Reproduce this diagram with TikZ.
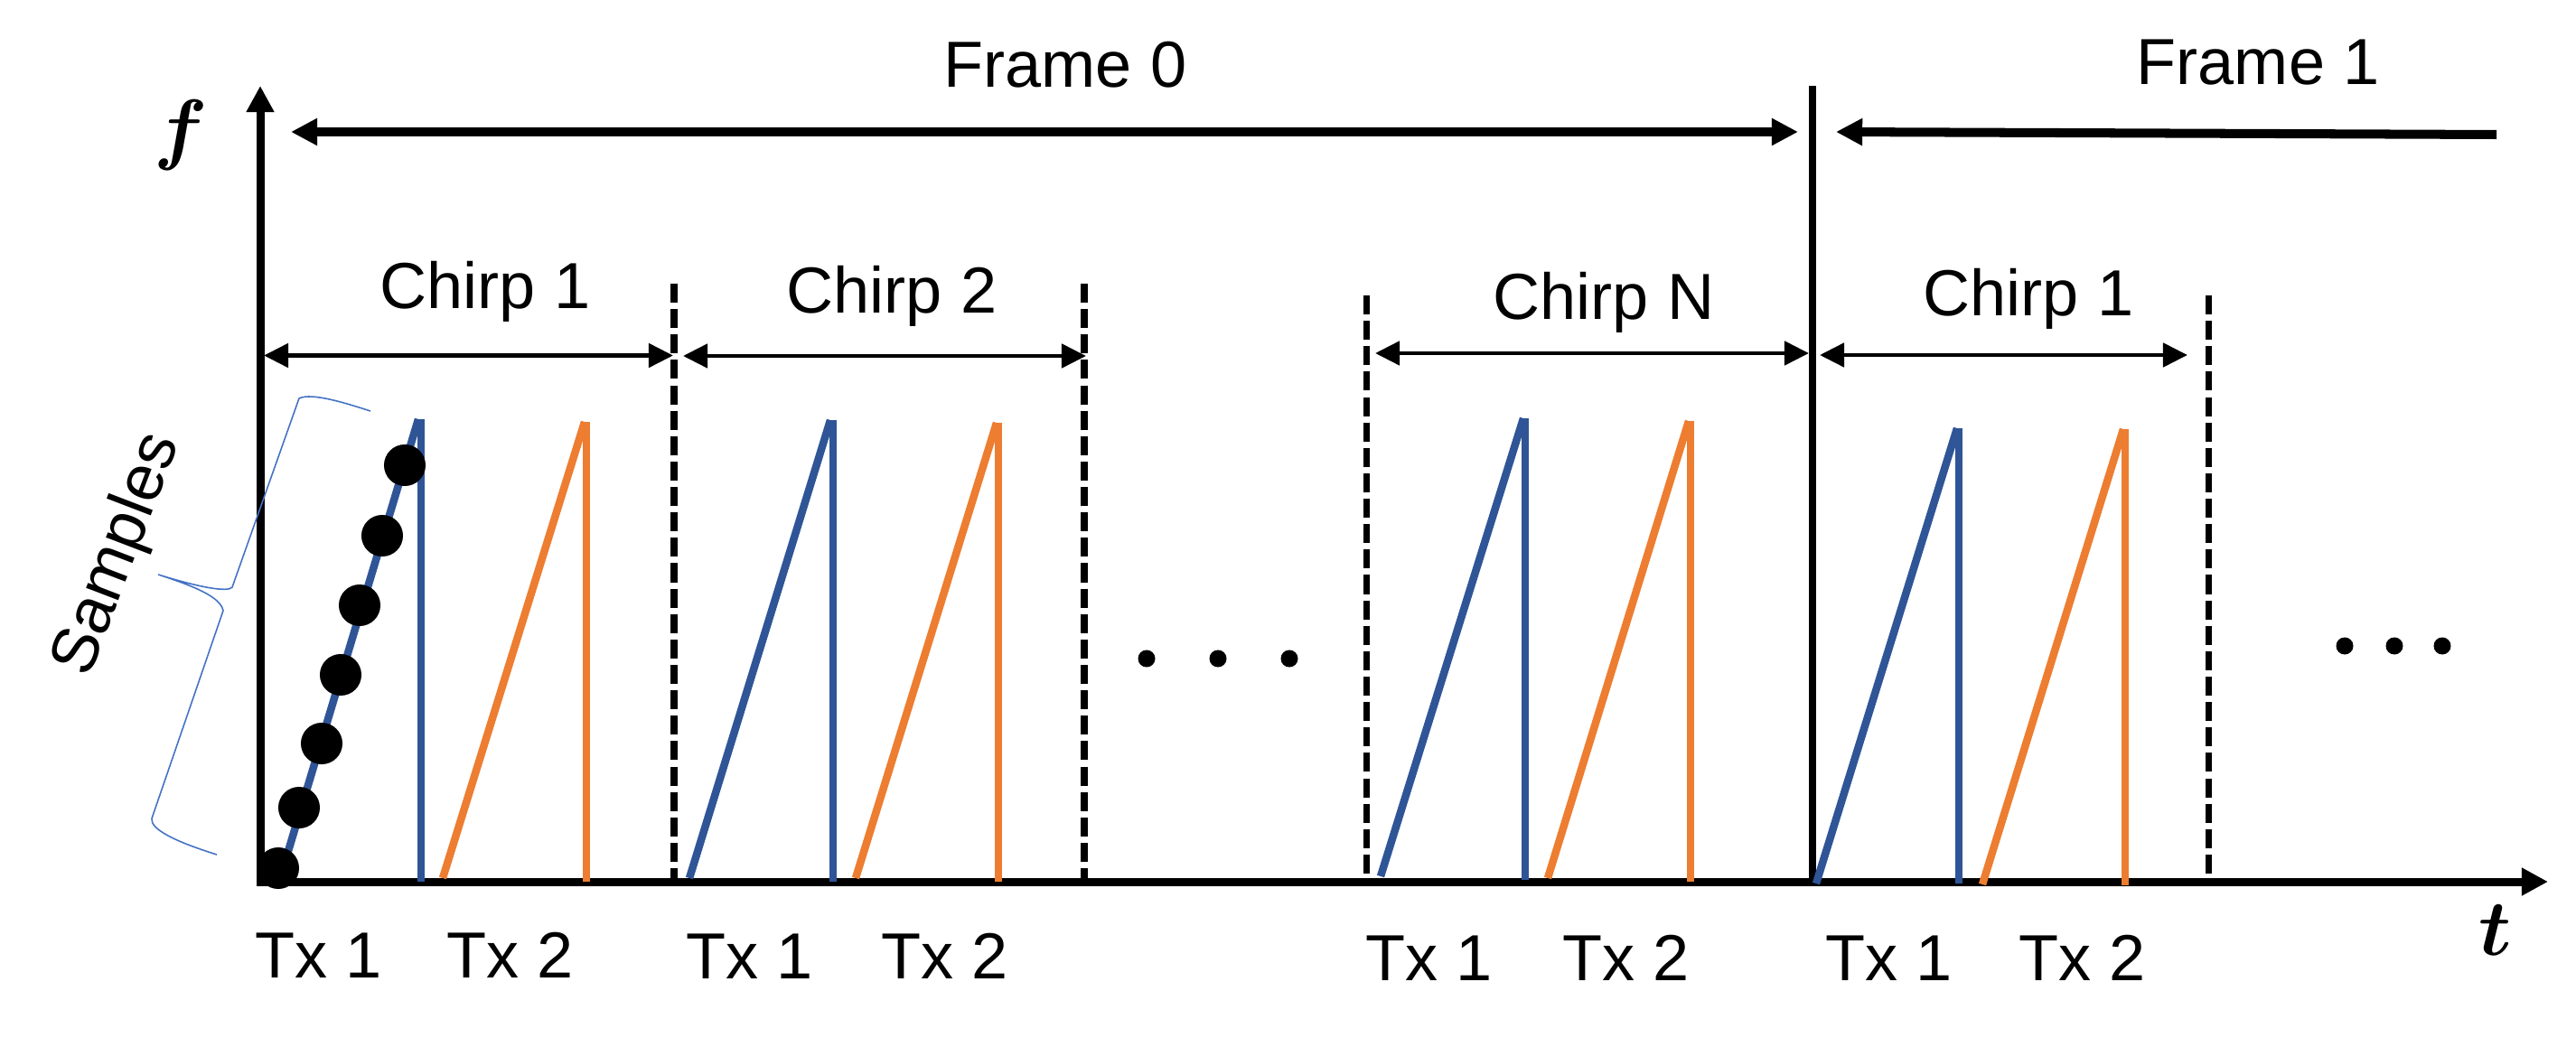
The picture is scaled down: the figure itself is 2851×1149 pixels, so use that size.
\documentclass[tikz,border=0pt]{standalone}
\usepackage{fontspec}
\setmainfont{Liberation Sans}
\usepackage{bm}
\usetikzlibrary{arrows.meta}
\definecolor{rampblue}{HTML}{2F5597}
\definecolor{ramporange}{HTML}{ED7D31}
\definecolor{braceblue}{HTML}{4472C4}
\tikzset{
  lbl/.style={font=\fontsize{20.5}{24}\selectfont, inner sep=0pt, anchor=base},
  axislbl/.style={font=\fontsize{25}{30}\selectfont, inner sep=0pt},
  axisline/.style={line width=2.56pt, -{Triangle[length=8.3pt,width=8.3pt]}},
  frameboth/.style={line width=2.85pt, {Triangle[length=8.3pt,width=8.1pt]}-{Triangle[length=8.3pt,width=8.1pt]}},
  frameleft/.style={line width=2.85pt, {Triangle[length=8.3pt,width=8.1pt]}-},
  chirparrow/.style={line width=1.42pt, {Triangle[length=7.7pt,width=7.4pt]}-{Triangle[length=7.7pt,width=7.4pt]}},
  chirpsep/.style={line width=2pt, dash pattern=on 6pt off 2pt},
  framesep/.style={line width=2.42pt},
  ramp/.style={line width=2.42pt},
  sdot/.style={circle, fill=black, inner sep=0pt, minimum size=0.46cm},
  edot/.style={circle, fill=black, inner sep=0pt, minimum size=0.19cm},
  bracestyle/.style={braceblue, line width=0.45pt}
}
\begin{document}
\begin{tikzpicture}[x=0.01cm,y=-0.01cm]
\useasboundingbox (0,0) rectangle (2851,1149);

% axes
\coordinate (Ybot) at (288,980.5);
\coordinate (Ytop) at (288,95);
\coordinate (Xleft) at (283.5,976);
\coordinate (Xend) at (2820,976);
\draw[axisline] (Ybot) -- (Ytop);
\draw[axisline] (Xleft) -- (Xend);
\node[axislbl] (flbl) at (200,150) {$\bm{f}$};
\node[axislbl] (tlbl) at (2762,1030) {$\bm{t}$};

% frame boundary and frame arrows
\coordinate (FBtop) at (2006,95);
\coordinate (FBbot) at (2006,976);
\draw[framesep] (FBtop) -- (FBbot);
\coordinate (F0l) at (322,146);
\coordinate (F0r) at (1990,146);
\draw[frameboth] (F0l) -- (F0r);
\coordinate (F1l) at (2032,146);
\coordinate (F1r) at (2763,149);
\draw[frameleft] (F1l) -- (F1r);
\node[lbl] (frame0) at (1179,97) {Frame 0};
\node[lbl] (frame1) at (2499,94) {Frame 1};

% chirp separators (dashed)
\coordinate (d1t) at (746,314);  \coordinate (d1b) at (746,972);
\coordinate (d2t) at (1200,314); \coordinate (d2b) at (1200,972);
\coordinate (d3t) at (1512,327); \coordinate (d3b) at (1512,972);
\coordinate (d4t) at (2444,327); \coordinate (d4b) at (2444,972);
\draw[chirpsep] (d1t) -- (d1b);
\draw[chirpsep] (d2t) -- (d2b);
\draw[chirpsep] (d3t) -- (d3b);
\draw[chirpsep] (d4t) -- (d4b);

% chirp arrows
\coordinate (c1l) at (292,393.5);  \coordinate (c1r) at (745,393.5);
\coordinate (c2l) at (756,394);    \coordinate (c2r) at (1202,394);
\coordinate (cNl) at (1522,391);   \coordinate (cNr) at (2002,391);
\coordinate (c5l) at (2014,393);   \coordinate (c5r) at (2421,393);
\draw[chirparrow] (c1l) -- (c1r);
\draw[chirparrow] (c2l) -- (c2r);
\draw[chirparrow] (cNl) -- (cNr);
\draw[chirparrow] (c5l) -- (c5r);
\node[lbl] (chirp1) at (537,342) {Chirp 1};
\node[lbl] (chirp2) at (987,347) {Chirp 2};
\node[lbl] (chirpN) at (1775,354) {Chirp N};
\node[lbl] (chirp1b) at (2245,350) {Chirp 1};

% ramps: chirp 1
\draw[ramp, rampblue] (310,972) -- (463,464);
\draw[ramp, rampblue] (466,464) -- (466,976);
\draw[ramp, ramporange] (490,972) -- (647,467);
\draw[ramp, ramporange] (649,467) -- (649,976);
% chirp 2
\draw[ramp, rampblue] (763,972) -- (919,465);
\draw[ramp, rampblue] (922,465) -- (922,976);
\draw[ramp, ramporange] (947,972) -- (1103,468);
\draw[ramp, ramporange] (1105,468) -- (1105,976);
% chirp N
\draw[ramp, rampblue] (1528,970) -- (1686,463);
\draw[ramp, rampblue] (1688,463) -- (1688,974);
\draw[ramp, ramporange] (1713,972) -- (1869,466);
\draw[ramp, ramporange] (1871,466) -- (1871,976);
% frame 1 chirp 1
\draw[ramp, rampblue] (2010,978) -- (2166,474);
\draw[ramp, rampblue] (2168,474) -- (2168,978);
\draw[ramp, ramporange] (2194,979) -- (2350,475);
\draw[ramp, ramporange] (2352,475) -- (2352,980);

% samples
\node[sdot] (s1) at (308,961) {};
\node[sdot] (s2) at (331,894) {};
\node[sdot] (s3) at (356,823) {};
\node[sdot] (s4) at (377,747) {};
\node[sdot] (s5) at (398,670) {};
\node[sdot] (s6) at (423,593) {};
\node[sdot] (s7) at (448,515) {};

% brace
\draw[bracestyle] (410,455) .. controls (385,447) and (345,434) .. (331,441)
  -- (257,650) .. controls (252,656) and (220,650) .. (175,636)
  .. controls (212,648) and (244,660) .. (247,676)
  -- (168,906) .. controls (166,918) and (195,932) .. (240,946);
\node[lbl, anchor=center, rotate=69] (samples) at (131,614) {Samples};

% ellipses
\node[edot] (e1) at (1269,729) {};
\node[edot] (e2) at (1348,729) {};
\node[edot] (e3) at (1427,729) {};
\node[edot] (e4) at (2595,715) {};
\node[edot] (e5) at (2650,715) {};
\node[edot] (e6) at (2703,715) {};

% Tx labels
\node[lbl] (tx11) at (353,1082) {Tx 1};
\node[lbl] (tx12) at (565,1082) {Tx 2};
\node[lbl] (tx21) at (830,1083) {Tx 1};
\node[lbl] (tx22) at (1046,1083) {Tx 2};
\node[lbl] (tx31) at (1582,1085) {Tx 1};
\node[lbl] (tx32) at (1800,1085) {Tx 2};
\node[lbl] (tx41) at (2091,1085) {Tx 1};
\node[lbl] (tx42) at (2305,1085) {Tx 2};
\end{tikzpicture}
\end{document}
